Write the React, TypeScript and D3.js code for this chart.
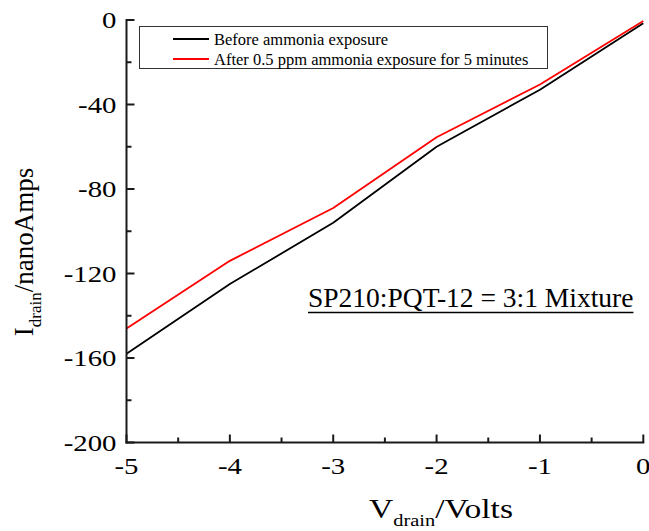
import React from "react";
import * as d3 from "d3";

const voltages = [-5, -4, -3, -2, -1, 0];
const beforeCurrent = [-158, -125, -96, -60, -33, -1.5];
const afterCurrent = [-146, -114, -89, -55.5, -30.5, -0.5];
const xTicks = [-5, -4, -3, -2, -1, 0];
const yTicks = [-200, -160, -120, -80, -40, 0];
const seriesNames = ["Before ammonia exposure", "After 0.5 ppm ammonia exposure for 5 minutes"];
const seriesColors = ["#000000", "#ff0000"];
const annotation = "SP210:PQT-12 = 3:1 Mixture";

const W = 649, H = 531;
const left = 126.5, right = 643.3, top = 20, bottom = 442.5;
const FONT = "'Liberation Serif', 'Times New Roman', serif";

export default function App() {
  const x = d3.scaleLinear().domain([-5, 0]).range([left, right]);
  const y = d3.scaleLinear().domain([-200, 0]).range([bottom, top]);
  const line = d3.line<number>().x((_, i) => x(voltages[i])).y((d) => y(d));
  const series = [beforeCurrent, afterCurrent];
  const xMinor = d3.range(-4.5, 0, 1);
  const yMinor = d3.range(-180, 0, 40);
  const axisColor = "#1a1a1a";
  const annRef = React.useRef<SVGTextElement>(null);
  const [annW, setAnnW] = React.useState(324);
  React.useLayoutEffect(() => {
    if (annRef.current) setAnnW(annRef.current.getComputedTextLength());
  }, []);

  return (
    <svg width={W} height={H} style={{ position: "absolute", left: 0, top: 0, background: "#fff" }} fontFamily={FONT}>
      {series.map((s, i) => (
        <path key={i} d={line(s) || ""} fill="none" stroke={seriesColors[i]} strokeWidth={1.8} strokeLinejoin="round" />
      ))}
      {/* axes */}
      <line x1={left} x2={left} y1={top - 1} y2={bottom + 1} stroke={axisColor} strokeWidth={2} />
      <line x1={left - 1} x2={right + 1} y1={bottom} y2={bottom} stroke={axisColor} strokeWidth={2} />
      {yTicks.map((t) => (
        <g key={"y" + t}>
          <line x1={left} x2={left + 8} y1={y(t)} y2={y(t)} stroke={axisColor} strokeWidth={2} />
          <text transform={`translate(${left - 10}, ${y(t)}) scale(1.2, 1)`} dy="0.35em" textAnchor="end" fontSize={24} fill="#000">
            {t}
          </text>
        </g>
      ))}
      {yMinor.map((t) => (
        <line key={"ym" + t} x1={left} x2={left + 5} y1={y(t)} y2={y(t)} stroke={axisColor} strokeWidth={2} />
      ))}
      {xTicks.map((t) => (
        <g key={"x" + t}>
          <line x1={x(t)} x2={x(t)} y1={bottom} y2={bottom - 8} stroke={axisColor} strokeWidth={2} />
          <text transform={`translate(${x(t)}, ${bottom + 31}) scale(1.2, 1)`} textAnchor="middle" fontSize={24} fill="#000">
            {t}
          </text>
        </g>
      ))}
      {xMinor.map((t) => (
        <line key={"xm" + t} x1={x(t)} x2={x(t)} y1={bottom} y2={bottom - 5} stroke={axisColor} strokeWidth={2} />
      ))}
      {/* axis titles */}
      <text transform={`translate(441, 518) scale(1.2, 1)`} textAnchor="middle" fontSize={28} fill="#000">
        V<tspan fontSize={17} dy={8}>drain</tspan>
        <tspan dy={-8}>/Volts</tspan>
      </text>
      <text transform={`translate(33, 252) rotate(-90)`} textAnchor="middle" fontSize={27} fill="#000">
        I<tspan fontSize={17} dy={8}>drain</tspan>
        <tspan dy={-8}>/nanoAmps</tspan>
      </text>
      {/* legend */}
      <rect x={139.5} y={26.5} width={408} height={42} fill="#fff" stroke="#333" strokeWidth={1} />
      {seriesNames.map((n, i) => (
        <g key={n}>
          <line x1={173} x2={209} y1={39 + i * 20} y2={39 + i * 20} stroke={seriesColors[i]} strokeWidth={1.8} />
          <text x={214} y={39 + i * 20} dy="0.35em" fontSize={16.5} fill="#000">
            {n}
          </text>
        </g>
      ))}
      {/* annotation */}
      <text ref={annRef} x={308} y={307} fontSize={27.5} fill="#000">
        {annotation}
      </text>
      <line x1={308} x2={308 + annW} y1={312.5} y2={312.5} stroke="#000" strokeWidth={1.3} />
    </svg>
  );
}
